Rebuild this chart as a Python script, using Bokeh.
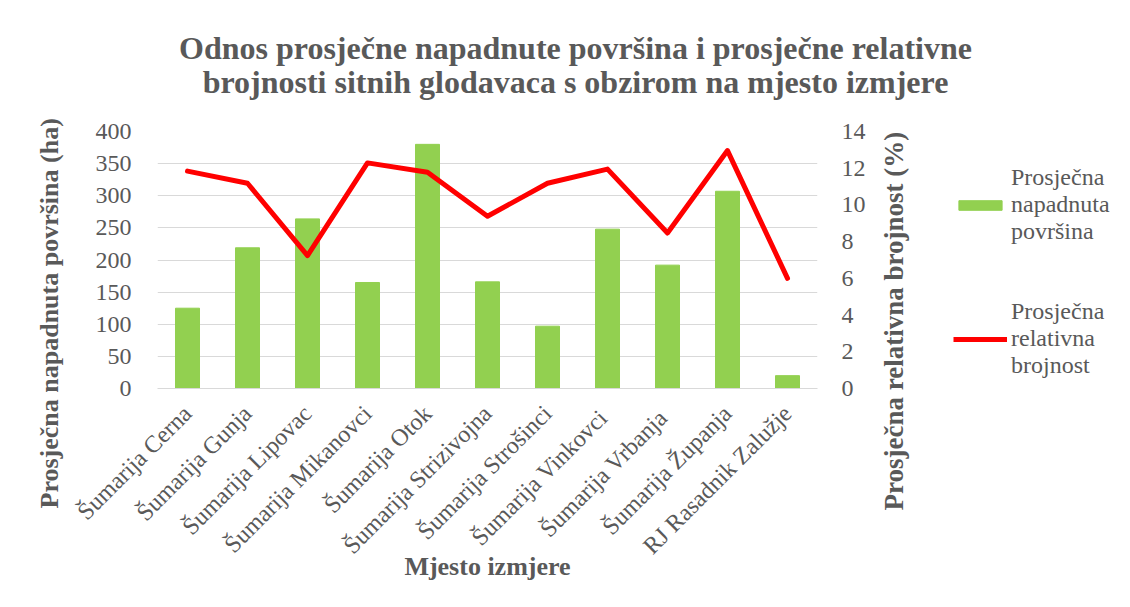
import math
from bokeh.plotting import figure
from bokeh.layouts import column, row
from bokeh.models import (Range1d, LinearAxis, FactorRange, Legend, LegendItem, Label,
                          FixedTicker, ColumnDataSource, Title)
from bokeh.embed import file_html
from bokeh.resources import INLINE

categories = ["Šumarija Cerna", "Šumarija Gunja", "Šumarija Lipovac", "Šumarija Mikanovci",
              "Šumarija Otok", "Šumarija Strizivojna", "Šumarija Strošinci", "Šumarija  Vinkovci",
              "Šumarija  Vrbanja", "Šumarija Županja", "RJ Rasadnik Zalužje"]
area_ha = [125, 219, 264, 165, 380, 166, 97, 248, 192, 307, 20]
rel_abundance = [11.84, 11.18, 7.24, 12.29, 11.78, 9.38, 11.18, 11.95, 8.47, 12.96, 6.0]
left_ticks = [0, 50, 100, 150, 200, 250, 300, 350, 400]
right_ticks = [0, 2, 4, 6, 8, 10, 12, 14]

title_lines = ["Odnos prosječne napadnute površina i prosječne relativne",
               "brojnosti sitnih glodavaca s obzirom na mjesto izmjere"]
left_title = "Prosječna napadnuta površina (ha)"
right_title = "Prosječna relativna brojnost (%)"
x_title = "Mjesto izmjere"
series_names = ["Prosječna\nnapadnuta\npovršina", "Prosječna\nrelativna\nbrojnost"]

FONT = "Liberation Serif"
GREY = "#595959"
GRID = "#d9d9d9"
GREEN = "#92d050"
RED = "#ff0000"

def blank(w, h, **kw):
    f = figure(width=w, height=h, x_range=Range1d(0, 1), y_range=Range1d(0, 1),
               x_axis_type=None, y_axis_type=None, output_backend="svg",
               toolbar_location=None, **kw)
    f.outline_line_color = None
    f.xgrid.visible = False
    f.ygrid.visible = False
    return f

# ---- title strip ----
T = blank(1130, 110, min_border=0)
for txt, y in [(title_lines[0], 63), (title_lines[1], 29)]:
    T.add_layout(Label(text=txt, x=575, y=y, x_units="screen", y_units="screen",
                       text_align="center", text_baseline="middle", text_font=FONT,
                       text_font_size="32px", text_font_style="bold", text_color=GREY))

# ---- main chart ----
src = ColumnDataSource(dict(cat=categories, area=area_ha, rel=rel_abundance))
A = figure(width=869, height=497, x_range=FactorRange(*categories, range_padding=0),
           y_range=Range1d(0, 400), output_backend="svg", toolbar_location=None,
           title=None, min_border_left=157, min_border_right=52, min_border_top=21,
           min_border_bottom=219)
A.extra_y_ranges = {"right": Range1d(0, 14)}
A.outline_line_color = None

bars = A.vbar(x="cat", top="area", width=0.4, color=GREEN, source=src)
line = A.line(x="cat", y="rel", line_color=RED, line_width=5, y_range_name="right",
              source=src, line_join="round", line_cap="round")

A.ygrid.grid_line_color = GRID
A.xgrid.grid_line_color = None

la = A.yaxis[0]
la.ticker = FixedTicker(ticks=left_ticks)
ra = LinearAxis(y_range_name="right", ticker=FixedTicker(ticks=right_ticks))
A.add_layout(ra, "right")
for ax in [la, ra]:
    ax.axis_line_color = None
    ax.major_tick_line_color = None
    ax.minor_tick_line_color = None
    ax.major_label_text_font = FONT
    ax.major_label_text_font_size = "24px"
    ax.major_label_text_color = GREY
la.major_label_standoff = 20
ra.major_label_standoff = 18

A.add_layout(Title(text=left_title, align="left", offset=-120, vertical_align="bottom",
                   standoff=58, text_font=FONT, text_font_size="26px",
                   text_font_style="bold", text_color=GREY), "left")

xa = A.xaxis[0]
xa.axis_line_color = GRID
xa.major_tick_line_color = None
xa.minor_tick_line_color = None
xa.major_label_orientation = math.pi / 4
xa.major_label_text_font = FONT
xa.major_label_text_font_size = "24px"
xa.major_label_text_color = GREY
xa.major_label_standoff = 15
xa.axis_label = x_title
xa.axis_label_text_font = FONT
xa.axis_label_text_font_size = "26px"
xa.axis_label_text_font_style = "bold"
xa.axis_label_text_color = GREY
xa.axis_label_standoff = -19

# ---- right strip: right axis title + legend ----
B = blank(261, 497, min_border_left=40, min_border_right=0, min_border_top=0,
          min_border_bottom=0)
B.add_layout(Title(text=right_title, align="left", offset=-122, vertical_align="middle",
                   standoff=0, text_font=FONT, text_font_size="27px",
                   text_font_style="bold", text_color=GREY), "left")
key_src = ColumnDataSource(dict(i=list(range(len(area_ha))), area=area_ha, rel=rel_abundance))
kb = B.vbar(x="i", top="area", width=0.4, color=GREEN, source=key_src, visible=False)
kl = B.line(x="i", y="rel", line_color=RED, line_width=5, source=key_src, visible=False)
legend = Legend(items=[LegendItem(label=series_names[0], renderers=[kb]),
                       LegendItem(label=series_names[1], renderers=[kl])],
                location=(44, 9))
legend.label_text_font = FONT
legend.label_text_font_size = "24px"
legend.label_text_line_height = 1.15
legend.label_text_color = GREY
legend.glyph_width = 54
legend.glyph_height = 12
legend.spacing = 53
legend.padding = 0
legend.margin = 0
legend.border_line_color = None
legend.background_fill_alpha = 0
legend.inactive_fill_alpha = 0
legend.label_standoff = 4
B.add_layout(legend)

layout = column(T, row(A, B))
open("out.html", "w").write(file_html(layout, INLINE))
